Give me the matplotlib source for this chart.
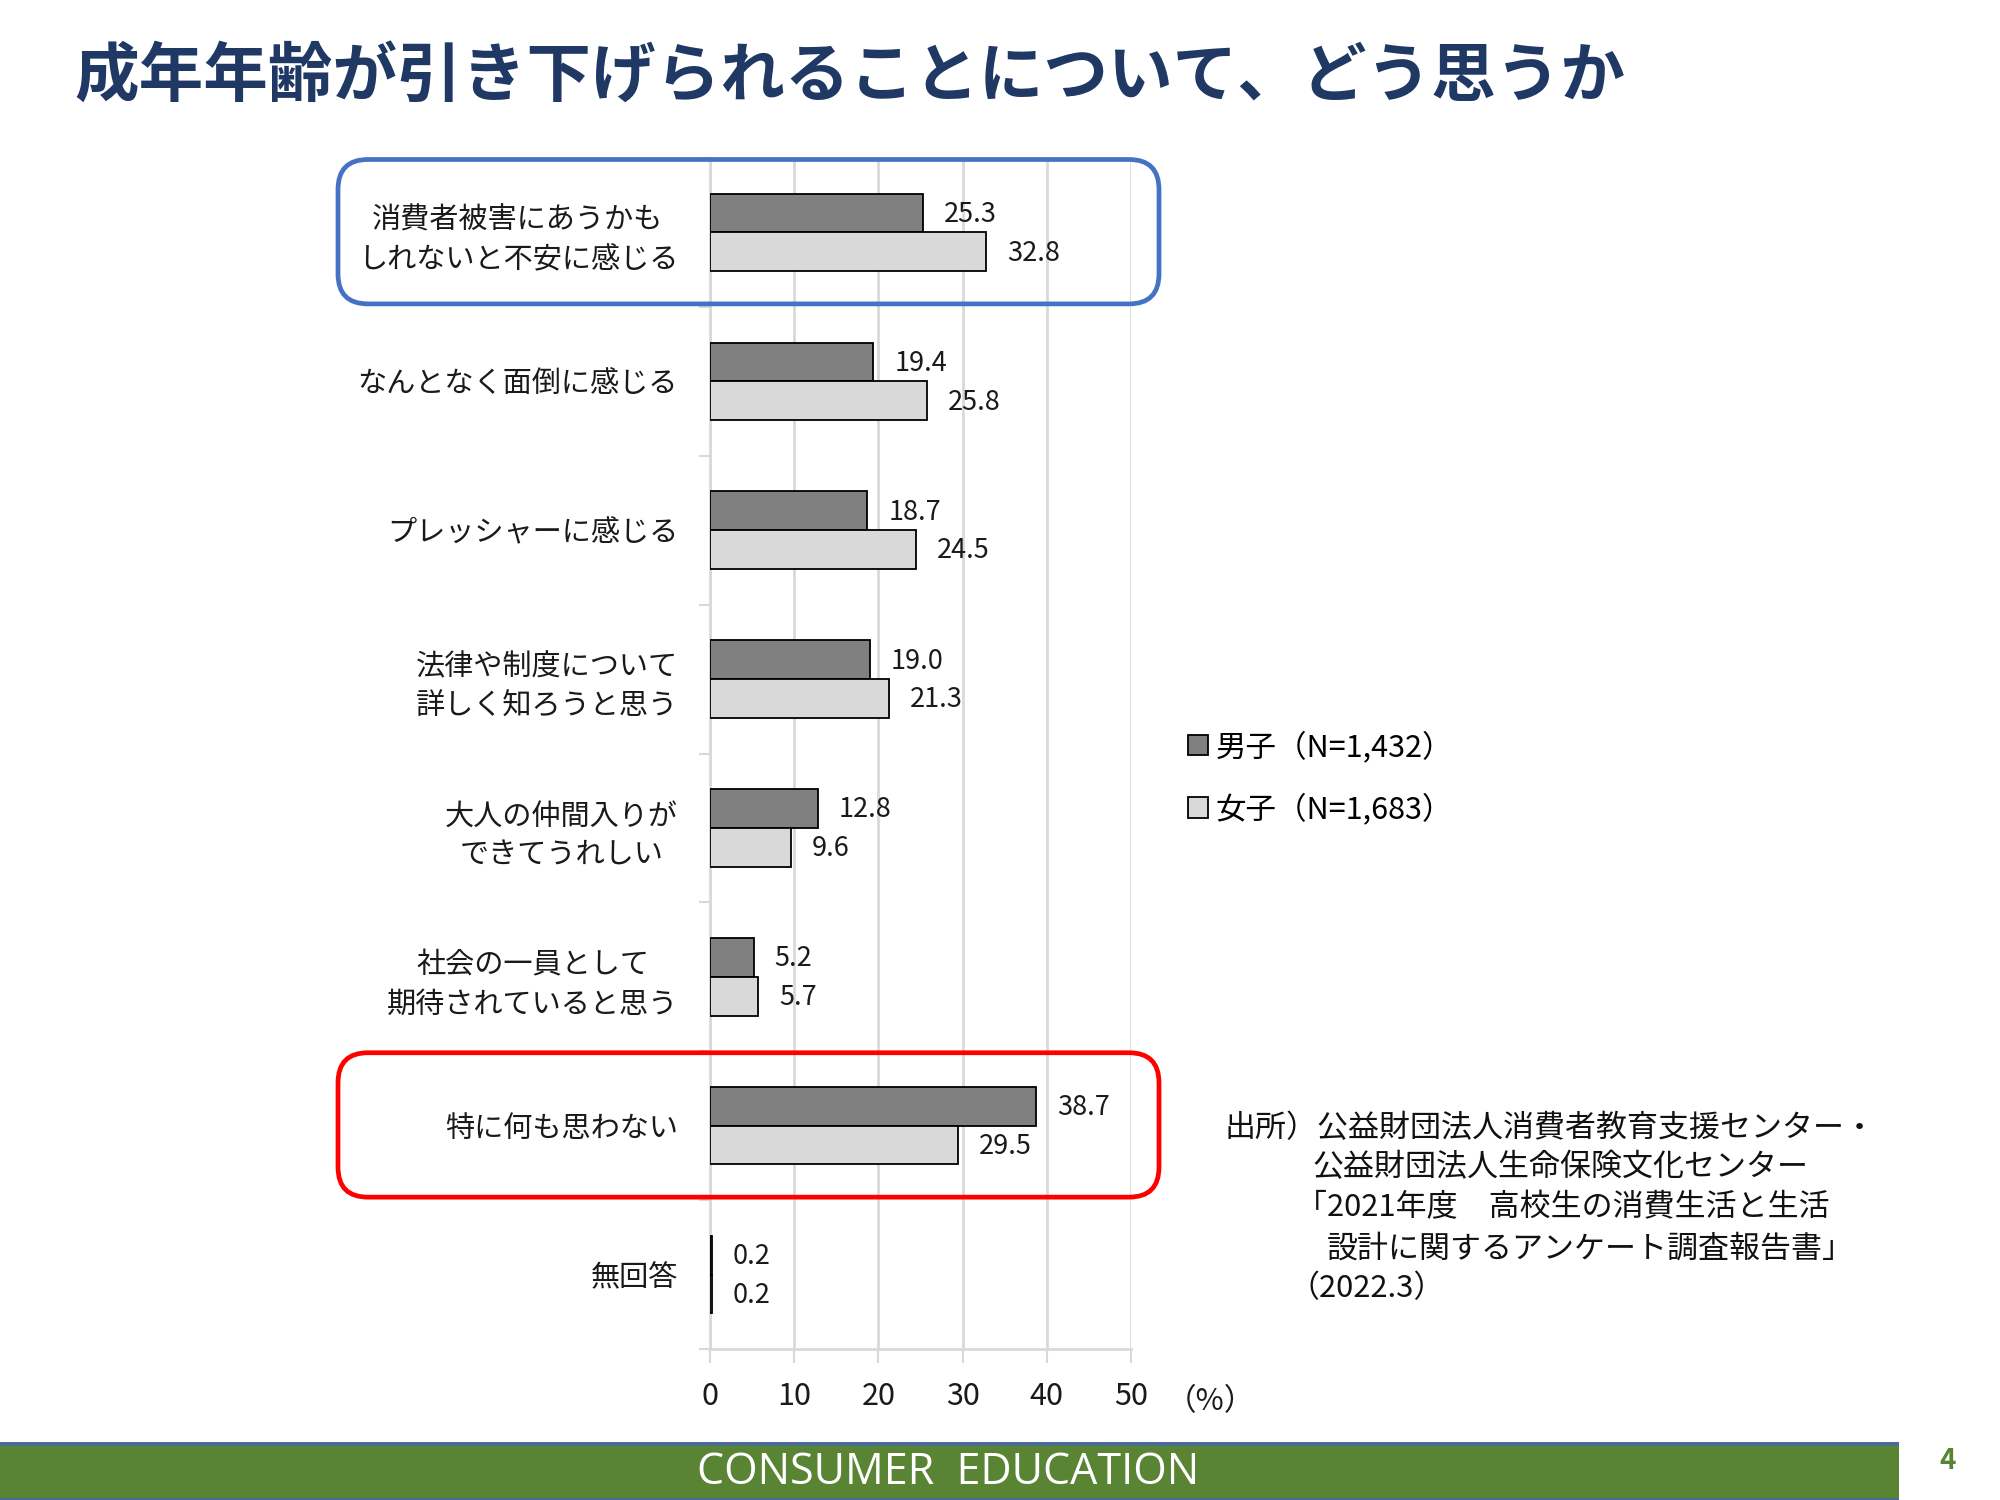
import matplotlib
matplotlib.use('Agg')
import matplotlib.pyplot as plt
import matplotlib.transforms as mtransforms
import numpy as np
from matplotlib.patches import FancyBboxPatch, Rectangle

plt.rcParams['font.family'] = ['Noto Sans CJK JP', 'DejaVu Sans']

categories = [
    '消費者被害にあうかも\nしれないと不安に感じる',
    'なんとなく面倒に感じる',
    'プレッシャーに感じる',
    '法律や制度について\n詳しく知ろうと思う',
    '大人の仲間入りが\nできてうれしい',
    '社会の一員として\n期待されていると思う',
    '特に何も思わない',
    '無回答',
]
male = [25.3, 19.4, 18.7, 19.0, 12.8, 5.2, 38.7, 0.2]
female = [32.8, 25.8, 24.5, 21.3, 9.6, 5.7, 29.5, 0.2]
male_label = '男子（N=1,432）'
female_label = '女子（N=1,683）'
x_ticks = [0, 10, 20, 30, 40, 50]

title = '成年年齢が引き下げられることについて、どう思うか'
source_lines = [
    '出所）公益財団法人消費者教育支援センター・',
    '公益財団法人生命保険文化センター',
    '「2021年度　高校生の消費生活と生活',
    '設計に関するアンケート調査報告書」',
    '（2022.3）',
]

W, H = 2000, 1500
fig = plt.figure(figsize=(20, 15), dpi=100)
ax = fig.add_axes([710 / W, 1 - 1349 / H, (1131 - 710) / W, (1349 - 158) / H])

grid_gray = '#d9d9d9'
text_col = '#1a1a1a'
y = np.arange(len(categories))
bh = 0.26
bars_m = ax.barh(y - bh / 2, male, height=bh, color='#808080', edgecolor='black',
                 linewidth=1.3, label=male_label, zorder=3)
bars_f = ax.barh(y + bh / 2, female, height=bh, color='#d9d9d9', edgecolor='black',
                 linewidth=1.3, label=female_label, zorder=3)

for bars, vals in ((bars_m, male), (bars_f, female)):
    for b, v in zip(bars, vals):
        ax.annotate(f'{v:.1f}', (v, b.get_y() + b.get_height() / 2),
                    xytext=(15, -1), textcoords='offset points',
                    ha='left', va='center', fontsize=19.5, color=text_col)

ax.set_xlim(0, 50)
ax.set_ylim(len(categories) - 0.5, -0.5)
ax.set_xticks(x_ticks)
ax.set_xticklabels([str(t) for t in x_ticks], fontsize=22, color=text_col)
ax.set_yticks(y)
ax.set_yticklabels(categories, fontsize=21, linespacing=1.4,
                   multialignment='center', color=text_col)
# nudge the category labels up a little
shift = mtransforms.ScaledTranslation(0, 0.05, fig.dpi_scale_trans)
for lab in ax.get_yticklabels():
    lab.set_transform(lab.get_transform() + shift)
ax.set_yticks(np.arange(len(categories) + 1) - 0.5, minor=True)
ax.tick_params(axis='y', which='major', length=0, pad=23)
ax.tick_params(axis='y', which='minor', length=8, width=1.5, color=grid_gray)
ax.tick_params(axis='x', length=10, width=1.5, color=grid_gray, pad=13)
ax.grid(axis='x', color=grid_gray, linewidth=2, zorder=0)
for side in ('top', 'right'):
    ax.spines[side].set_visible(False)
for side in ('left', 'bottom'):
    ax.spines[side].set_color(grid_gray)
    ax.spines[side].set_linewidth(2)

fig.text(1166 / W, 1 - 1402 / H, '（%）', fontsize=22,
         ha='left', va='center', color=text_col)

# highlight boxes around the first and the seventh category
def highlight(cat, color):
    px = ax.transData.transform
    _, top = px((0, cat - 0.49))
    _, bottom = px((0, cat + 0.48))
    x0 = px((0, 0))[0] - 372
    x1 = px((50, 0))[0] + 28
    inv = fig.dpi_scale_trans.inverted()
    (ix0, iy0), (ix1, iy1) = inv.transform([(x0, bottom), (x1, top)])
    box = FancyBboxPatch((ix0, iy0), ix1 - ix0, iy1 - iy0,
                         boxstyle='round,pad=0,rounding_size=0.3',
                         transform=fig.dpi_scale_trans, fill=False,
                         edgecolor=color, linewidth=3.4, zorder=5)
    fig.patches.append(box)

highlight(0, '#4472c4')
highlight(6, '#ff0000')

fig.legend(handles=[bars_m, bars_f], loc='upper left',
           bbox_to_anchor=(1188 / W, 1 - 731 / H), frameon=False, fontsize=22,
           handlelength=0.65, handleheight=0.65, handletextpad=0.25,
           labelspacing=1.0, borderpad=0, borderaxespad=0)

fig.text(74 / W, 1 - 77 / H, title, fontsize=46.5, fontweight='bold',
         color='#1f3864', ha='left', va='center')

src_x = [1225, 1312, 1296, 1327, 1288]
src_y = [1129, 1168, 1208, 1249, 1289]
for line, sx, sy in zip(source_lines, src_x, src_y):
    fig.text(sx / W, 1 - sy / H, line, fontsize=22.3, ha='left', va='center',
             color='#111111')

# footer band
band_h = 54
fig.patches.append(Rectangle((0, 0), 1899 / W, band_h / H, transform=fig.transFigure,
                             facecolor='#598434', edgecolor='none', zorder=1))
fig.patches.append(Rectangle((0, band_h / H), 1899 / W, 4 / H, transform=fig.transFigure,
                             facecolor='#4a6b94', edgecolor='none', zorder=1))
fig.patches.append(Rectangle((0, 0), 1899 / W, 2 / H, transform=fig.transFigure,
                             facecolor='#4a6b94', edgecolor='none', zorder=1))
fig.text(948 / W, 1 - 1473 / H, 'CONSUMER  EDUCATION', fontsize=31,
         family=['Open Sans', 'DejaVu Sans'], color='white',
         ha='center', va='center', zorder=2)
fig.text(1948 / W, 1 - 1461 / H, '4', fontsize=20, fontweight='bold',
         color='#598434', ha='center', va='center')

fig.savefig('out.png', dpi=100)
